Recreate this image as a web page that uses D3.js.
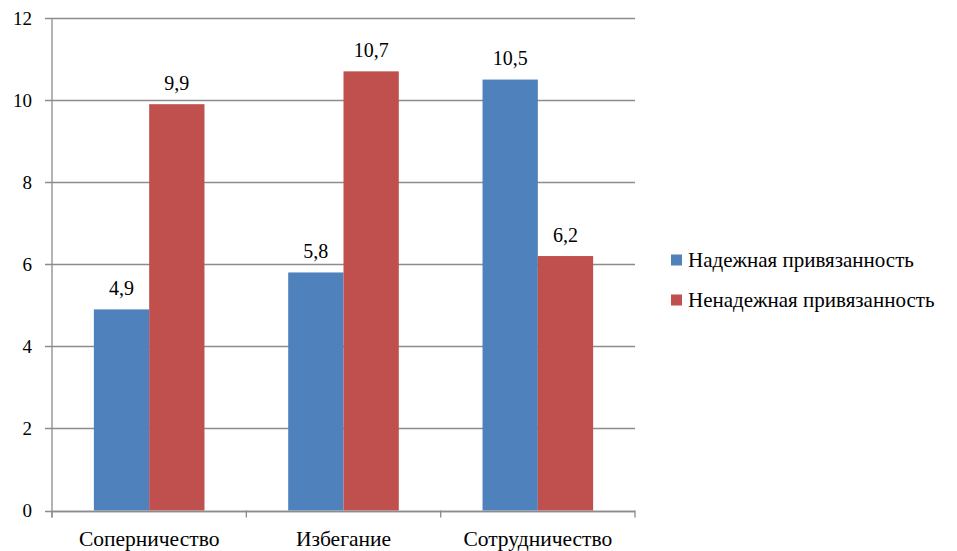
<!DOCTYPE html>
<html>
<head>
<meta charset="utf-8">
<script src="https://cdn.jsdelivr.net/npm/d3@7"></script>
<style>
  html, body { margin: 0; padding: 0; background: #fff; }
  #chart text { font-family: "Liberation Serif", "Times New Roman", "DejaVu Serif", serif; fill: #000; }
</style>
</head>
<body>
<svg id="chart" width="957" height="551"></svg>
<script>
// Conflict strategies by attachment type
const categories = ["Соперничество", "Избегание", "Сотрудничество"];
const seriesNames = ["Надежная привязанность", "Ненадежная привязанность"];
const secureValues = [4.9, 5.8, 10.5];
const insecureValues = [9.9, 10.7, 6.2];
const yTicks = [0, 2, 4, 6, 8, 10, 12];
const colors = ["#4F81BD", "#C0504D"];

const series = [secureValues, insecureValues];
const fmt = v => String(v).replace(".", ",");

const svg = d3.select("#chart");
const plotLeft = 52, plotRight = 635, plotTop = 18, plotBottom = 510.5;
const axisColor = "#8c8c8c";

const x = d3.scaleBand().domain(categories).range([plotLeft, plotRight]).paddingInner(0).paddingOuter(0);
const y = d3.scaleLinear().domain([0, 12]).range([plotBottom, plotTop]);
const inner = d3.scaleBand().domain(d3.range(series.length)).range([0, x.bandwidth()]).paddingInner(0).paddingOuter(0.757);

// horizontal gridlines with small left ticks
svg.append("g").selectAll("line").data(yTicks).join("line")
  .attr("x1", plotLeft - 7).attr("x2", plotRight)
  .attr("y1", d => Math.round(y(d)) + 0.5).attr("y2", d => Math.round(y(d)) + 0.5)
  .attr("stroke", axisColor).attr("stroke-width", 1.3);

// y labels
svg.append("g").selectAll("text").data(yTicks).join("text")
  .attr("x", 32).attr("y", d => y(d)).attr("dy", "0.35em")
  .attr("text-anchor", "end").attr("font-size", 19).text(d => d);

// bars and value labels
const groups = svg.append("g").selectAll("g").data(categories).join("g")
  .attr("transform", c => `translate(${x(c)},0)`);
series.forEach((vals, si) => {
  groups.append("rect")
    .attr("x", inner(si))
    .attr("width", inner.bandwidth())
    .attr("y", (c, i) => y(vals[i]))
    .attr("height", (c, i) => y(0) - y(vals[i]))
    .attr("fill", colors[si]);
  groups.append("text")
    .attr("x", inner(si) + inner.bandwidth() / 2)
    .attr("y", (c, i) => y(vals[i]) - 14.5)
    .attr("text-anchor", "middle").attr("font-size", 20)
    .text((c, i) => fmt(vals[i]));
});

// axis lines
svg.append("line").attr("x1", plotLeft).attr("x2", plotLeft).attr("y1", plotTop).attr("y2", plotBottom + 7)
  .attr("stroke", axisColor).attr("stroke-width", 1.3);
svg.append("line").attr("x1", plotLeft).attr("x2", plotRight)
  .attr("y1", Math.round(plotBottom) + 0.5).attr("y2", Math.round(plotBottom) + 0.5)
  .attr("stroke", axisColor).attr("stroke-width", 1.3);
const catTicks = categories.map(c => x(c)).concat([plotRight]);
svg.append("g").selectAll("line").data(catTicks).join("line")
  .attr("x1", d => d).attr("x2", d => d).attr("y1", plotBottom).attr("y2", plotBottom + 7)
  .attr("stroke", axisColor).attr("stroke-width", 1.3);

// category labels
svg.append("g").selectAll("text").data(categories).join("text")
  .attr("x", c => x(c) + x.bandwidth() / 2).attr("y", 546)
  .attr("text-anchor", "middle").attr("font-size", 21.5).text(c => c);

// legend
const legend = svg.append("g").selectAll("g").data(seriesNames).join("g")
  .attr("transform", (d, i) => `translate(671,${254.5 + i * 40})`);
legend.append("rect").attr("width", 11).attr("height", 11).attr("fill", (d, i) => colors[i]);
legend.append("text").attr("x", 17).attr("y", 12)
  .attr("font-size", 21).text(d => d);
</script>
</body>
</html>
